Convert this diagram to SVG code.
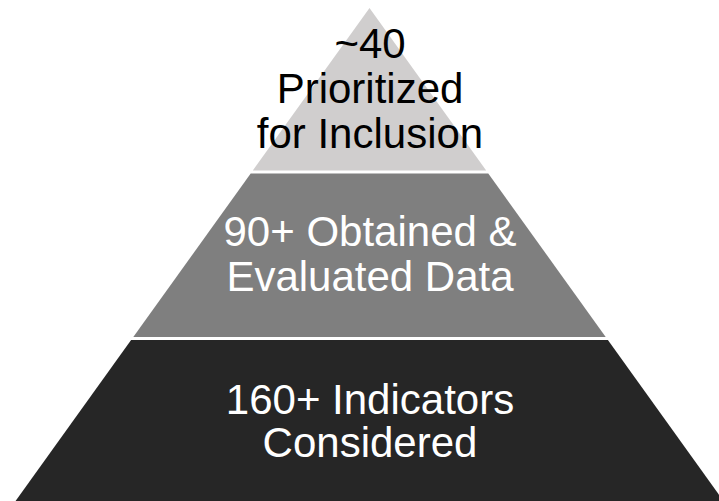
<svg xmlns="http://www.w3.org/2000/svg" width="719" height="501" viewBox="0 0 719 501">
<style>
text { font-family: "Liberation Sans", Arial, sans-serif; font-size: 42px; text-anchor: middle; }
.dark { fill: #000000; }
.light { fill: #ffffff; }
</style>
<rect x="0" y="0" width="719" height="501" fill="#ffffff"/>
<g id="tier-top">
<polygon points="369.5,8 486.2,170.5 252.8,170.5" fill="#d0cece"/>
<text class="dark" x="370" y="58">~40</text>
<text class="dark" x="370" y="103">Prioritized</text>
<text class="dark" x="370" y="148">for Inclusion</text>
</g>
<g id="tier-middle">
<polygon points="250.7,173.5 488.3,173.5 605.7,337 133.3,337" fill="#7f7f7f"/>
<text class="light" x="370" y="246">90+ Obtained &amp;</text>
<text class="light" x="370" y="291">Evaluated Data</text>
</g>
<g id="tier-bottom">
<polygon points="131.1,340 607.9,340 729.9,510 9.1,510" fill="#262626"/>
<text class="light" x="370" y="414">160+ Indicators</text>
<text class="light" x="370" y="457">Considered</text>
</g>
<g id="connectors"></g>
</svg>
